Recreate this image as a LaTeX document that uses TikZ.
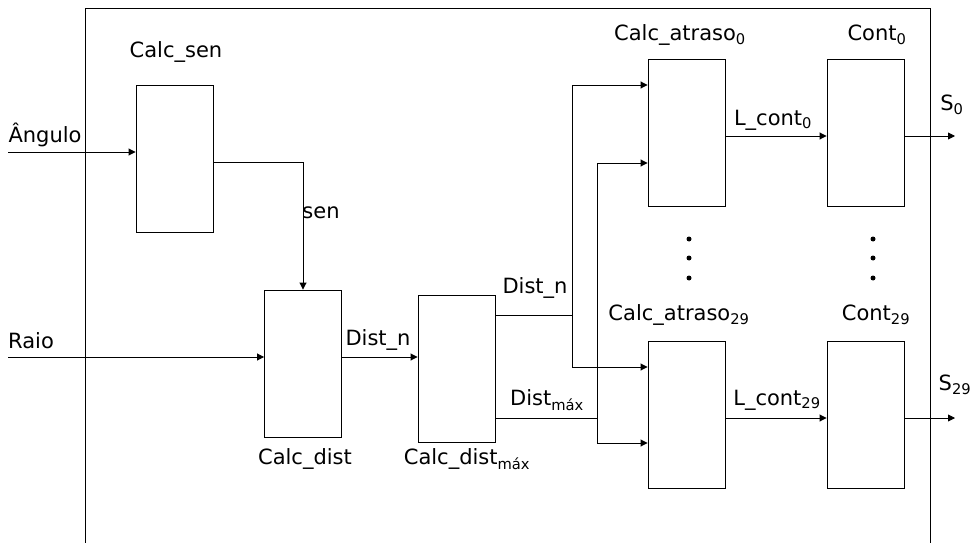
\documentclass[tikz,border=0pt]{standalone}
\usepackage{fontspec}
\setmainfont{DejaVu Sans}
\usetikzlibrary{arrows.meta}
\begin{document}
\begin{tikzpicture}[x=1pt,y=-1pt,
  blk/.style={draw,line width=0.9pt,minimum width=77pt,minimum height=147pt,inner sep=0pt},
  lbl/.style={font=\fontsize{21}{23}\selectfont,inner sep=0pt},
  wire/.style={line width=0.9pt},
  arr/.style={line width=0.9pt,-{Triangle[length=7pt,width=7pt]}},
  dot/.style={circle,fill,inner sep=0pt,minimum size=5pt}]
\useasboundingbox (0,0) rectangle (970,543);
% frame
\draw[wire] (85,543) -- (85,8) -- (930,8) -- (930,543);
% blocks
\node[blk] (csen) at (174.5,158.5) {};
\node[blk] (cdist) at (303,363.5) {};
\node[blk] (cmax) at (456.5,369) {};
\node[blk] (at0) at (686.5,133) {};
\node[blk] (ct0) at (865.5,133) {};
\node[blk] (at29) at (686.5,414.5) {};
\node[blk] (ct29) at (865.5,414.5) {};
% labels
\node[lbl] (lcsen) at (176,52) {Calc\_sen};
\node[lbl] (lang) at (45,135) {Ângulo};
\node[lbl] (lsen) at (321,213) {sen};
\node[lbl] (lraio) at (31,341) {Raio};
\node[lbl] (lcdist) at (305,459) {Calc\_dist};
\node[lbl] (ldn1) at (378,340) {Dist\_n};
\node[lbl] (lcmax) at (467,459) {Calc\_dist\textsubscript{máx}};
\node[lbl] (ldn2) at (535,288) {Dist\_n};
\node[lbl] (ldmax) at (547,400) {Dist\textsubscript{máx}};
\node[lbl] (lat0) at (680,35) {Calc\_atraso\textsubscript{0}};
\node[lbl] (lct0) at (877,35) {Cont\textsubscript{0}};
\node[lbl] (llc0) at (773,120) {L\_cont\textsubscript{0}};
\node[lbl] (ls0) at (952,105) {S\textsubscript{0}};
\node[lbl] (lat29) at (679,315) {Calc\_atraso\textsubscript{29}};
\node[lbl] (lct29) at (876,315) {Cont\textsubscript{29}};
\node[lbl] (llc29) at (777,400) {L\_cont\textsubscript{29}};
\node[lbl] (ls29) at (955,385) {S\textsubscript{29}};
% dots
\foreach \y in {239,258,278} {
  \node[dot] at (689,\y) {};
  \node[dot] at (873,\y) {};
}
% coordinates
\coordinate (inA) at (8,152);
\coordinate (inR) at (8,357);
\coordinate (senout) at (csen.east |- 0,162);
\coordinate (dnout) at (cmax.east |- 0,315);
\coordinate (dmout) at (cmax.east |- 0,418);
\coordinate (bx1) at (572,315);
\coordinate (bx2) at (597,418);
\coordinate (s0) at (955,136);
\coordinate (s29) at (955,418);
% connectors
\draw[arr] (inA) -- (inA -| csen.west);
\draw[arr] (senout) -| (cdist.north);
\draw[arr] (inR) -- (inR -| cdist.west);
\draw[arr] (cdist.east |- inR) -- (cmax.west |- inR);
\draw[wire] (dnout) -- (bx1);
\draw[arr] (bx1) |- (at0.west |- 0,85);
\draw[arr] (bx1) |- (at29.west |- 0,367);
\draw[wire] (dmout) -- (bx2);
\draw[arr] (bx2) |- (at0.west |- 0,163);
\draw[arr] (bx2) |- (at29.west |- 0,443);
\draw[arr] (at0.east |- s0) -- (ct0.west |- s0);
\draw[arr] (ct0.east |- s0) -- (s0);
\draw[arr] (at29.east |- s29) -- (ct29.west |- s29);
\draw[arr] (ct29.east |- s29) -- (s29);
\end{tikzpicture}
\end{document}
